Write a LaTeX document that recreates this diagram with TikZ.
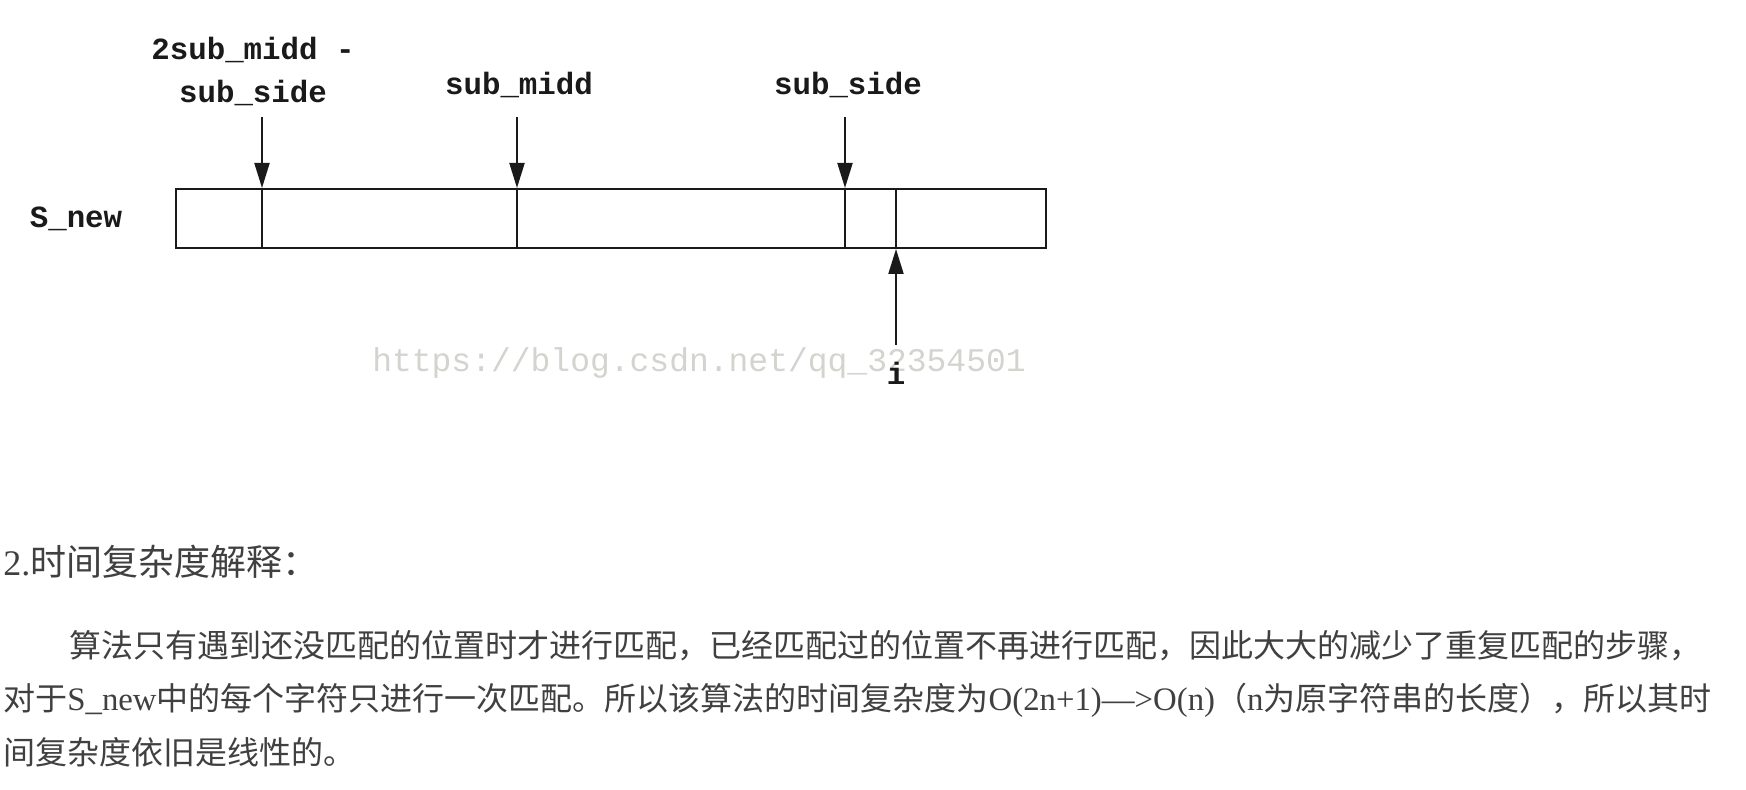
\documentclass[tikz,border=0pt]{standalone}
\usepackage{fontspec}
\setmainfont{Liberation Serif}
\newfontfamily\cjk{Noto Sans CJK SC}
\newfontfamily\lmono{Liberation Mono}
\usetikzlibrary{arrows.meta}
\definecolor{bodytext}{HTML}{404040}
\definecolor{wmark}{HTML}{D4D4CE}
\definecolor{ink}{HTML}{1A1A1A}
\newcommand\cjkbody{\cjk\fontsize{16pt}{20pt}\selectfont}
\newcommand\latbody{\rmfamily\fontsize{16.4pt}{20pt}\selectfont}
\newcommand\lathead{\rmfamily\fontsize{18pt}{22pt}\selectfont}
\newcommand\cjkhead{\cjk\fontsize{18pt}{22pt}\selectfont}
\begin{document}
\begin{tikzpicture}[x=0.5pt,y=-0.5pt,
  lbl/.style={font=\lmono\bfseries\fontsize{15.4pt}{22.5pt}\selectfont, text=ink, inner sep=0pt, align=center},
  ptr/.style={draw=ink, line width=1pt, -{Triangle[length=12.5pt,width=7.5pt]}},
  cellline/.style={draw=ink, line width=1pt},
  body/.style={anchor=base west, inner sep=0pt, text=bodytext},
  wmstyle/.style={font=\lmono\fontsize{16.5pt}{20pt}\selectfont, text=wmark, inner sep=0pt}
]
\useasboundingbox[fill=white] (0,0) rectangle (1746,790);

% array
\node (arr) [draw=ink, line width=1pt, minimum width=435pt, minimum height=29.5pt, inner sep=0pt] at (611,218.5) {};
\foreach \x in {262,517,845,896}
  \draw[cellline] (\x,0 |- arr.north) -- (\x,0 |- arr.south);

% watermark
\node[wmstyle] (wm) at (699,363) {https://blog.csdn.net/qq\_32354501};

% labels
\node[lbl] (lside) at (253,72) {2sub\_midd -\\[-1pt]sub\_side};
\node[lbl] (lmidd) at (519,85) {sub\_midd};
\node[lbl] (rside) at (848,85) {sub\_side};
\node[lbl] (snew) at (76,219) {S\_new};
\node[lbl] (ilbl) at (896,373) {i};

% pointers
\coordinate (p1) at (262,117);
\coordinate (p2) at (517,117);
\coordinate (p3) at (845,117);
\coordinate (pi) at (896,345);
\draw[ptr] (p1) -- (p1 |- arr.north);
\draw[ptr] (p2) -- (p2 |- arr.north);
\draw[ptr] (p3) -- (p3 |- arr.north);
\draw[ptr] (pi) -- (pi |- arr.south);

% text
\node[body] (head) at (3,576) {{\lathead 2.}{\cjkhead 时间复杂度解释：}};
\node[body] (t1) at (69,658) {\cjkbody 算法只有遇到还没匹配的位置时才进行匹配，已经匹配过的位置不再进行匹配，因此大大的减少了重复匹配的步骤，};
\node[body] (t2) at (3,711) {{\cjkbody 对于}{\latbody S\_new}{\cjkbody 中的每个字符只进行一次匹配。所以该算法的时间复杂度为}{\latbody O(2n+1)—>O(n)}{\cjkbody （}{\latbody n}{\cjkbody 为原字符串的长度），所以其时}};
\node[body] (t3) at (3,764) {\cjkbody 间复杂度依旧是线性的。};
\end{tikzpicture}
\end{document}
